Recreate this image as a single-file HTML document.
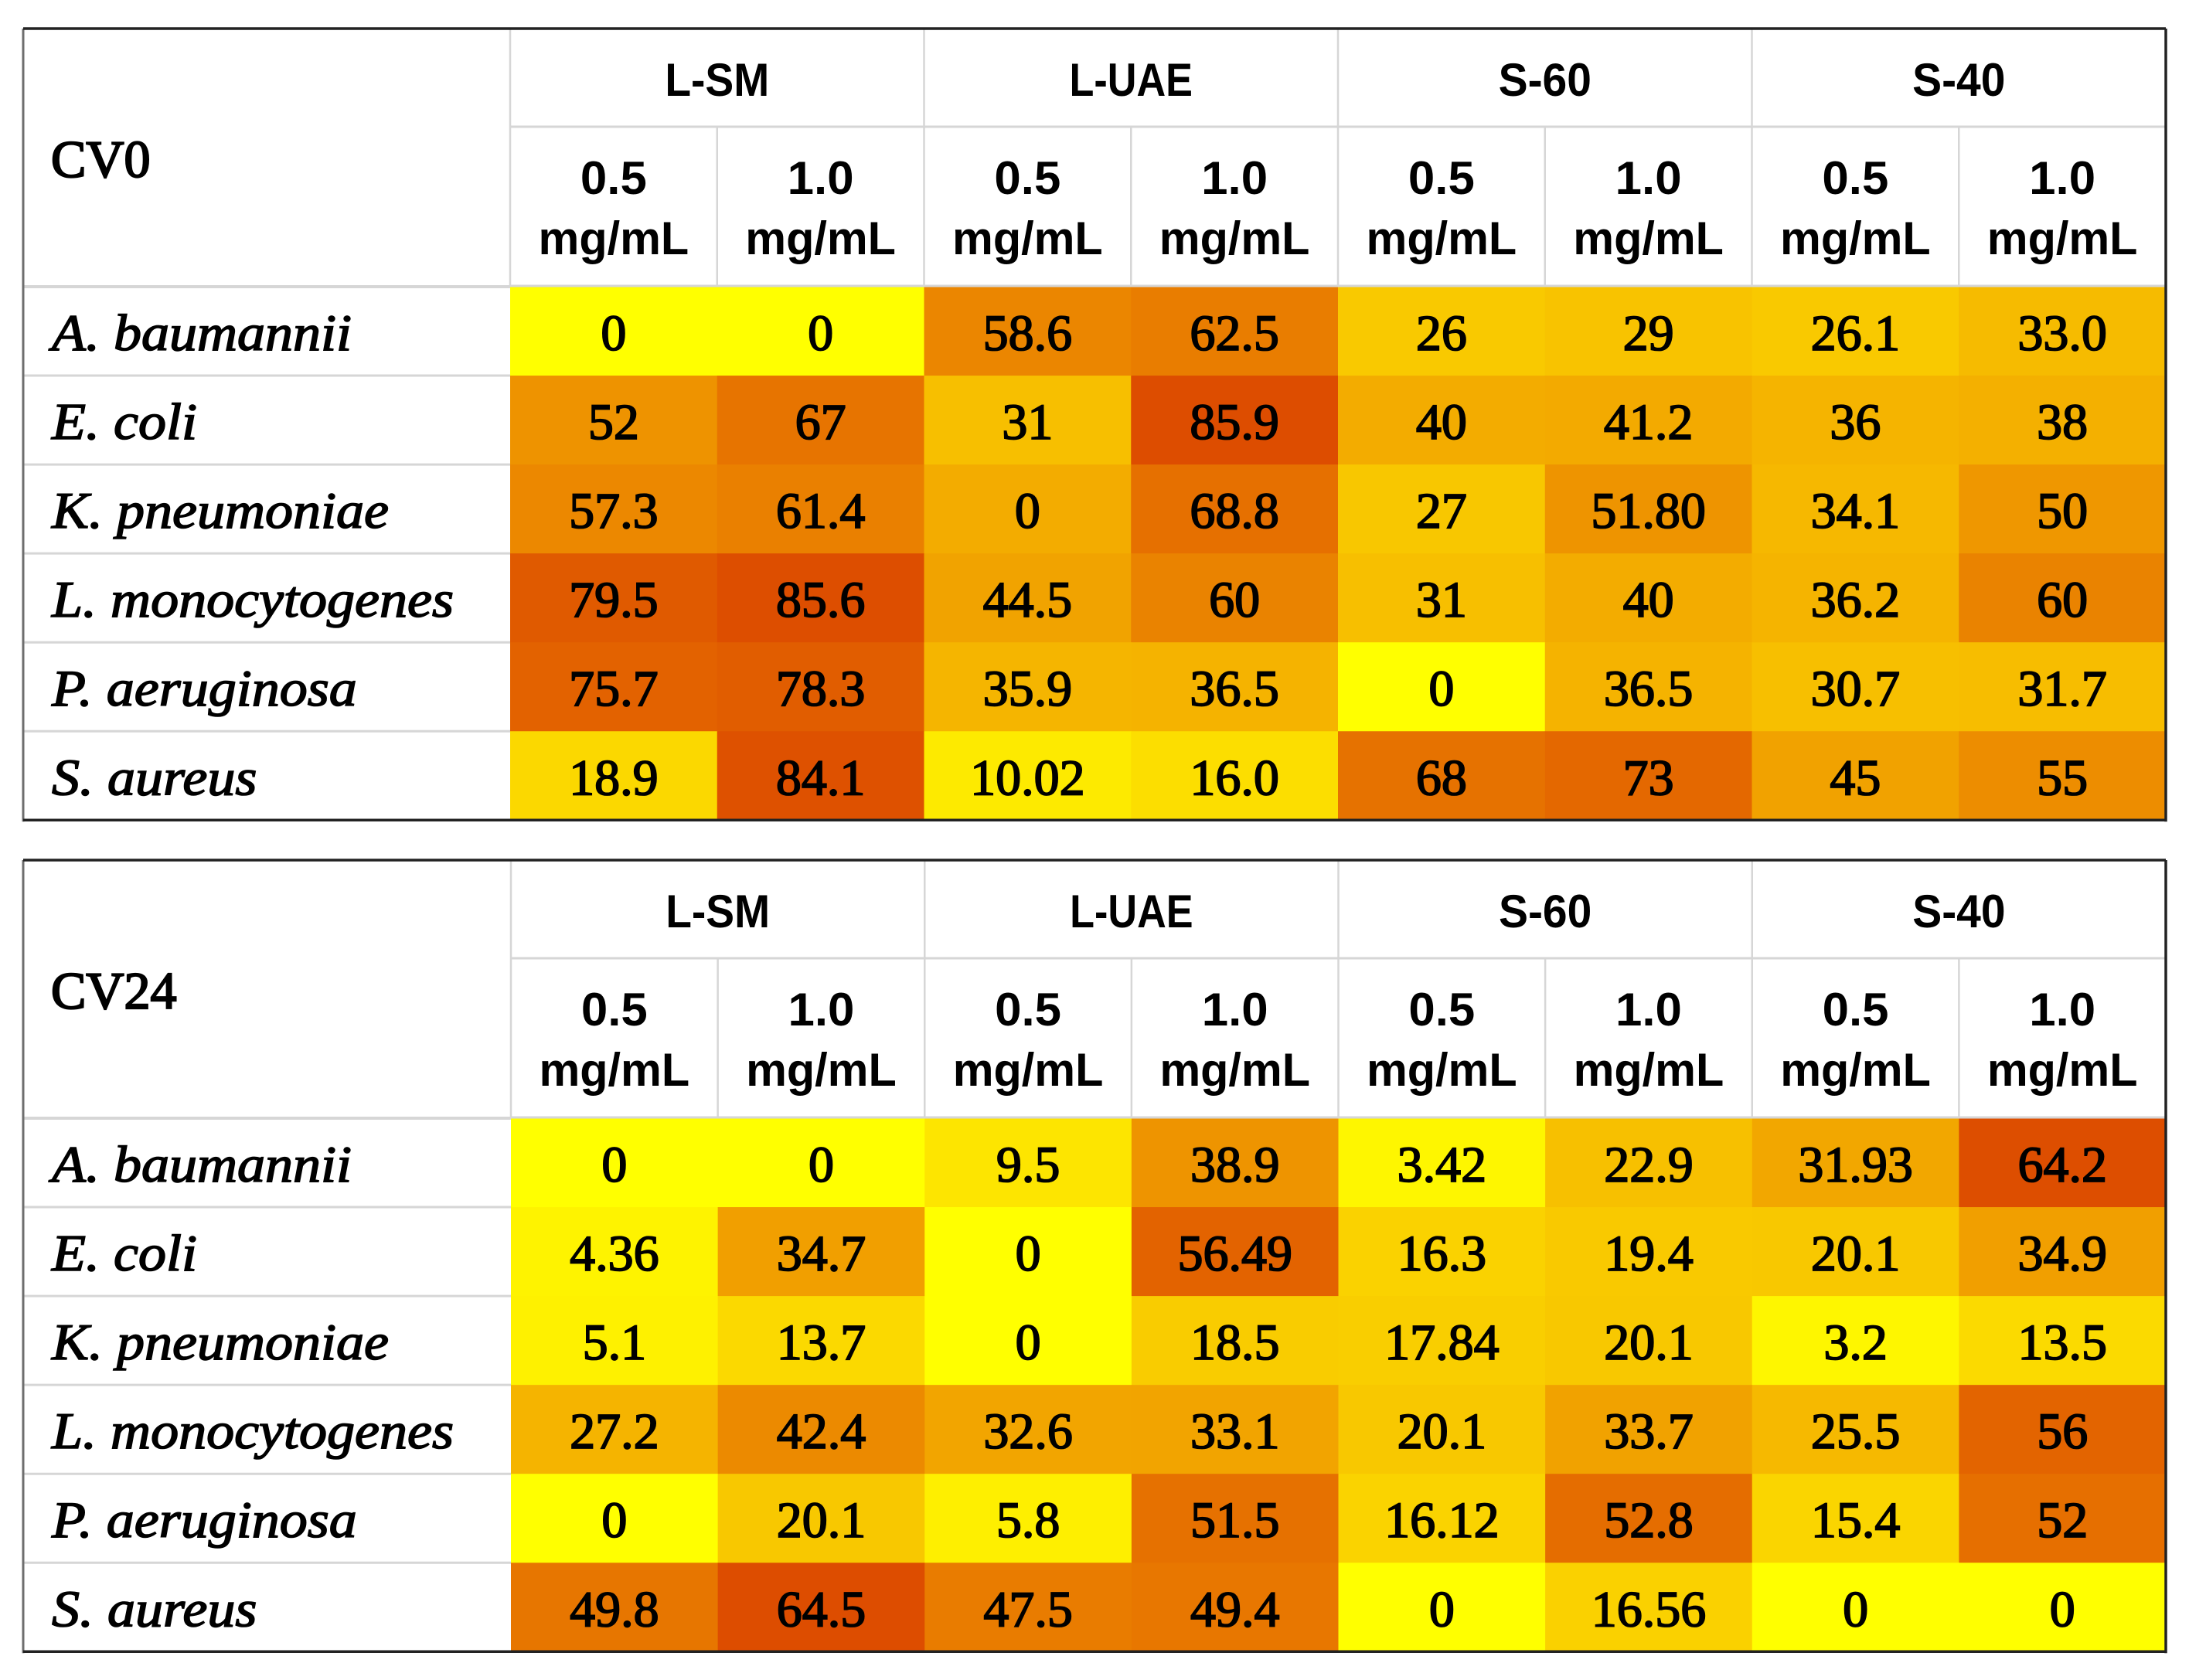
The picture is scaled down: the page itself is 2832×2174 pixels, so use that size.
<!DOCTYPE html>
<html lang="en">
<head>
<meta charset="utf-8">
<title>CV0 and CV24 heatmap tables</title>
<style>
html,body{margin:0;padding:0;background:#fff;}
svg{display:block;}
.num{font-family:"Liberation Serif",serif;font-size:66px;fill:#000;text-anchor:middle;stroke:#000;stroke-width:1.8px;}
.species{font-family:"Liberation Serif",serif;font-style:italic;font-size:67px;fill:#000;stroke:#000;stroke-width:1.6px;}
.title{font-family:"Liberation Serif",serif;font-size:68px;fill:#000;stroke:#000;stroke-width:2.2px;}
.head{font-family:"Liberation Sans",sans-serif;font-weight:700;font-size:60px;fill:#000;text-anchor:middle;}
</style>
</head>
<body>
<svg id="chart" xmlns="http://www.w3.org/2000/svg" width="2832" height="2174" viewBox="0 0 2832 2174"></svg>
<script>
const species = ["A. baumannii","E. coli","K. pneumoniae","L. monocytogenes","P. aeruginosa","S. aureus"];
const groups = ["L-SM","L-UAE","S-60","S-40"];
const doses = ["0.5","1.0"];
const doseUnit = "mg/mL";
const cv0Labels = [
  ["0","0","58.6","62.5","26","29","26.1","33.0"],
  ["52","67","31","85.9","40","41.2","36","38"],
  ["57.3","61.4","0","68.8","27","51.80","34.1","50"],
  ["79.5","85.6","44.5","60","31","40","36.2","60"],
  ["75.7","78.3","35.9","36.5","0","36.5","30.7","31.7"],
  ["18.9","84.1","10.02","16.0","68","73","45","55"]
];
const cv24Labels = [
  ["0","0","9.5","38.9","3.42","22.9","31.93","64.2"],
  ["4.36","34.7","0","56.49","16.3","19.4","20.1","34.9"],
  ["5.1","13.7","0","18.5","17.84","20.1","3.2","13.5"],
  ["27.2","42.4","32.6","33.1","20.1","33.7","25.5","56"],
  ["0","20.1","5.8","51.5","16.12","52.8","15.4","52"],
  ["49.8","64.5","47.5","49.4","0","16.56","0","0"]
];
/* A printed 0 that the source shades as a mid-range value */
const cv0ShadeOverrides = {"2,2":40};
const cv24ShadeOverrides = {};

const svg = document.getElementById('chart');
const NS = 'http://www.w3.org/2000/svg';
const plotRight = 2802, leftEdge = 30;
const colCount = 8, rowCount = 6;
const groupStretch = {"L-SM":0.92,"L-UAE":0.87,"S-60":0.95,"S-40":0.95};

function shade(v, max){
  const t = Math.max(0, Math.min(1, v / max));
  const r = Math.round(255 - 34 * Math.pow(t, 1.4));
  const g = Math.round(255 - 178 * t);
  return 'rgb(' + r + ',' + g + ',0)';
}
function line(parent, x1, y1, x2, y2, color, w, name){
  const l = document.createElementNS(NS, 'line');
  l.setAttribute('x1', x1);
  l.setAttribute('y1', y1);
  l.setAttribute('x2', x2);
  l.setAttribute('y2', y2);
  l.setAttribute('stroke', color);
  l.setAttribute('stroke-width', w);
  
  
  parent.appendChild(l);
}
function text(parent, cls, x, y, str, name, sx){
  const t = document.createElementNS(NS, 'text');
  t.setAttribute('class', cls);
  t.setAttribute('transform', 'translate(' + x + ',' + y + ') scale(' + (sx || 1) + ',1)');
  t.textContent = str;
  
  
  parent.appendChild(t);
}
function drawTable(title, labels, overrides, top, labelRight, tableName){
  const g = document.createElementNS(NS, 'g');
  
  
  svg.appendChild(g);

  const colW = (plotRight - labelRight) / colCount;
  const xScale = function(i){ return labelRight + i * colW; };
  const head1 = top + 127, head2 = top + 334, rowH = 115.05;
  const bottom = head2 + rowH * rowCount;
  const yScale = function(i){ return head2 + i * rowH; };
  const flat = labels.flat().map(parseFloat).concat(Object.values(overrides));
  const maxV = Math.max.apply(null, flat);

  labels.forEach(function(row, r){
    row.forEach(function(str, c){
      const key = r + ',' + c;
      const v = (key in overrides) ? overrides[key] : parseFloat(str);
      const rect = document.createElementNS(NS, 'rect');
      rect.setAttribute('x', xScale(c));
      rect.setAttribute('y', yScale(r));
      rect.setAttribute('width', colW + .5);
      rect.setAttribute('height', rowH + .5);
      rect.setAttribute('fill', shade(v, maxV));
      
      
      g.appendChild(rect);
    });
  });

  const grey = '#d6d6d6';
  line(g, labelRight, head1, plotRight, head1, grey, 3, 'header-divider');
  line(g, leftEdge, head2, labelRight, head2, grey, 4, 'label-header-divider');
  line(g, labelRight, head2 - 1, plotRight, head2 - 1, grey, 3, 'column-header-divider');
  for (let i = 1; i < rowCount; i++) {
    line(g, leftEdge, yScale(i), labelRight, yScale(i), grey, 3, 'row-divider');
  }
  for (let c = 0; c < colCount; c++) {
    const yStart = c % 2 === 0 ? top : head1;
    line(g, xScale(c), yStart, xScale(c), head2, grey, 2.5, 'column-divider');
  }

  text(g, 'title', 66, top + 192, title, 'table-title');
  groups.forEach(function(name, i){
    text(g, 'head', xScale(i * 2 + 1), top + 87, name, 'group-header', groupStretch[name]);
    doses.forEach(function(d, j){
      const cx = xScale(i * 2 + j) + colW / 2;
      text(g, 'head', cx, top + 214, d, 'dose-value', 1.03);
      text(g, 'head', cx, top + 292, doseUnit, 'dose-unit', 0.99);
    });
  });
  species.forEach(function(name, r){
    text(g, 'species', 67, yScale(r) + 82, name, 'species-label', 1.075);
  });
  labels.forEach(function(row, r){
    row.forEach(function(str, c){
      text(g, 'num', xScale(c) + colW / 2, yScale(r) + 82, str, 'cell-value');
    });
  });

  line(g, leftEdge, top, leftEdge, bottom + 2, '#6e6e6e', 3, 'border-left');
  line(g, leftEdge, top, plotRight, top, '#222', 3.5, 'border-top');
  line(g, plotRight, top, plotRight, bottom + 2, '#222', 3.5, 'border-right');
  line(g, leftEdge, bottom, plotRight, bottom, '#222', 3.5, 'border-bottom');
}
drawTable('CV0', cv0Labels, cv0ShadeOverrides, 37, 660, 'cv0-table');
drawTable('CV24', cv24Labels, cv24ShadeOverrides, 1113, 661, 'cv24-table');
</script>
</body>
</html>
